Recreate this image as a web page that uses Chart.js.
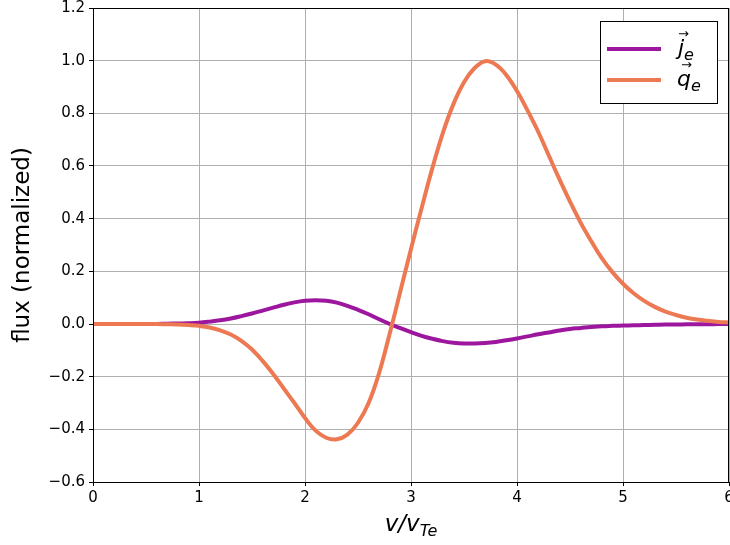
<!DOCTYPE html>
<html>
<head>
<meta charset="utf-8">
<script src="https://cdn.jsdelivr.net/npm/chart.js@4"></script>
<style>
  body { margin: 0; background: #fff; }
  #wrap { width: 730px; height: 545px; }
</style>
</head>
<body>
<div id="wrap"><canvas id="flux"></canvas></div>
<script>
// velocity grid v/v_Te
var xs = [0.0, 0.1, 0.2, 0.3, 0.4, 0.5, 0.6, 0.7, 0.8, 0.9,
          1.0, 1.1, 1.2, 1.3, 1.4, 1.5, 1.6, 1.7, 1.8, 1.9,
          2.0, 2.1, 2.2, 2.3, 2.4, 2.5, 2.6, 2.7, 2.8, 2.9,
          3.0, 3.1, 3.2, 3.3, 3.4, 3.5, 3.6, 3.7, 3.8, 3.9,
          4.0, 4.1, 4.2, 4.3, 4.4, 4.5, 4.6, 4.7, 4.8, 4.9,
          5.0, 5.1, 5.2, 5.3, 5.4, 5.5, 5.6, 5.7, 5.8, 5.9, 6.0];

// particle flux j_e (normalized)
var jFlux = [0, 0, 0, 0, 0, 0, 0, 0.001, 0.002, 0.003,
             0.005, 0.009, 0.014, 0.021, 0.030, 0.040, 0.051, 0.062, 0.073, 0.082,
             0.088, 0.090, 0.088, 0.081, 0.069, 0.054, 0.037, 0.018, 0.000, -0.016,
             -0.031, -0.045, -0.056, -0.065, -0.071, -0.074, -0.074, -0.072, -0.068, -0.062,
             -0.055, -0.047, -0.039, -0.032, -0.025, -0.019, -0.015, -0.011, -0.009, -0.007,
             -0.006, -0.005, -0.004, -0.003, -0.002, -0.002, -0.001, -0.001, -0.001, 0, 0];

// heat flux q_e (normalized)
var qFlux = [0, 0, 0, 0, 0, 0, 0, -0.001, -0.002, -0.004,
             -0.007, -0.013, -0.024, -0.040, -0.064, -0.097, -0.140, -0.190, -0.245, -0.300,
             -0.357, -0.405, -0.432, -0.438, -0.420, -0.375, -0.300, -0.185, -0.035, 0.125,
             0.285, 0.440, 0.590, 0.725, 0.835, 0.918, 0.972, 0.998, 0.985, 0.945,
             0.885, 0.810, 0.730, 0.640, 0.550, 0.465, 0.385, 0.315, 0.250, 0.197,
             0.153, 0.117, 0.088, 0.065, 0.047, 0.034, 0.024, 0.017, 0.012, 0.008, 0.006];

var xTicks = [0, 1, 2, 3, 4, 5, 6];
var yTicks = [-0.6, -0.4, -0.2, 0.0, 0.2, 0.4, 0.6, 0.8, 1.0, 1.2];

var purple = '#9c179e';
var orange = '#ed7953';
var FONT = 'DejaVu Sans';

function pts(ys) {
    return xs.map(function (x, i) { return { x: x, y: ys[i] }; });
}

function minus(s) { return String(s).replace('-', '\u2212'); }

// frame, legend and x title drawn like matplotlib
var extras = {
    id: 'extras',
    afterDraw: function (chart) {
        var c = chart.ctx, a = chart.chartArea;
        c.save();
        // box around axes
        c.strokeStyle = '#000';
        c.lineWidth = 1;
        c.strokeRect(Math.round(a.left) + 0.5, Math.round(a.top) + 0.5,
                     Math.round(a.right - a.left) - 1, Math.round(a.bottom - a.top));

        // legend
        var lx = 600, ly = 21, lw = 117, lh = 82;
        c.fillStyle = '#fff';
        c.fillRect(lx, ly, lw, lh);
        c.strokeRect(lx + 0.5, ly + 0.5, lw, lh);
        var rows = [[purple, 'j', 49], [orange, 'q', 80]];
        rows.forEach(function (r) {
            c.strokeStyle = r[0];
            c.lineWidth = 4;
            c.beginPath();
            c.moveTo(607, r[2]);
            c.lineTo(661, r[2]);
            c.stroke();
            c.fillStyle = '#000';
            c.textBaseline = 'alphabetic';
            c.textAlign = 'left';
            c.font = 'italic 22px ' + FONT;
            var tx = r[1] === 'j' ? 678 : 677;
            c.fillText(r[1], tx, r[2] + 6);
            var w = c.measureText(r[1]).width;
            // vector arrow
            c.font = '13px ' + FONT;
            c.fillText('\u2192', tx + w / 2 - 3, r[2] - 11);
            c.font = 'italic 16px ' + FONT;
            c.fillText('e', tx + w, r[2] + 11);
        });

        // x axis title v/v_Te
        c.fillStyle = '#000';
        c.textAlign = 'left';
        c.textBaseline = 'alphabetic';
        var main = 'v/v';
        c.font = 'italic 16px ' + FONT;
        var subW = c.measureText('Te').width;
        c.font = 'italic 23px ' + FONT;
        var mainW = c.measureText(main).width;
        var sx = (a.left + a.right) / 2 - (mainW + subW) / 2;
        c.fillText(main, sx, 531);
        c.font = 'italic 16px ' + FONT;
        c.fillText('Te', sx + mainW, 536);
        c.restore();
    }
};

function noPad(s) {
    s.paddingLeft = 0;
    s.paddingRight = 0;
    s.paddingTop = 0;
    s.paddingBottom = 0;
}

var ctx = document.getElementById('flux').getContext('2d');
var chart = new Chart(ctx, {
    type: 'line',
    data: {
        datasets: [{
            label: 'j_e',
            data: pts(jFlux),
            borderColor: purple,
            borderWidth: 4,
            pointRadius: 0,
            tension: 0.4,
            order: 2
        }, {
            label: 'q_e',
            data: pts(qFlux),
            borderColor: orange,
            borderWidth: 4,
            pointRadius: 0,
            tension: 0.4,
            order: 1
        }]
    },
    options: {
        responsive: true,
        maintainAspectRatio: false,
        animation: false,
        layout: { padding: { top: 8, right: 1, left: 0, bottom: 0 } },
        plugins: {
            legend: { display: false },
            tooltip: { enabled: false }
        },
        scales: {
            x: {
                type: 'linear',
                min: 0,
                max: 6,
                afterBuildTicks: function (s) { s.ticks = xTicks.map(function (v) { return { value: v }; }); },
                afterFit: function (s) { s.height = 63; noPad(s); },
                grid: { color: '#b0b0b0', lineWidth: 1, tickColor: '#000', tickLength: 4 },
                border: { color: '#000' },
                ticks: {
                    color: '#000',
                    padding: 3,
                    maxRotation: 0,
                    font: { family: FONT, size: 15 },
                    callback: function (v) { return minus(v); }
                }
            },
            y: {
                min: -0.6,
                max: 1.2,
                afterBuildTicks: function (s) { s.ticks = yTicks.map(function (v) { return { value: v }; }); },
                afterFit: function (s) { s.width = 93; noPad(s); },
                grid: { color: '#b0b0b0', lineWidth: 1, tickColor: '#000', tickLength: 4 },
                border: { color: '#000' },
                title: {
                    display: true,
                    text: 'flux (normalized)',
                    color: '#000',
                    font: { family: FONT, size: 23 },
                    padding: { top: 9, bottom: 6 }
                },
                ticks: {
                    color: '#000',
                    padding: 4,
                    font: { family: FONT, size: 15 },
                    callback: function (v) { return minus(v.toFixed(1)); }
                }
            }
        }
    },
    plugins: [extras]
});
</script>
</body>
</html>
